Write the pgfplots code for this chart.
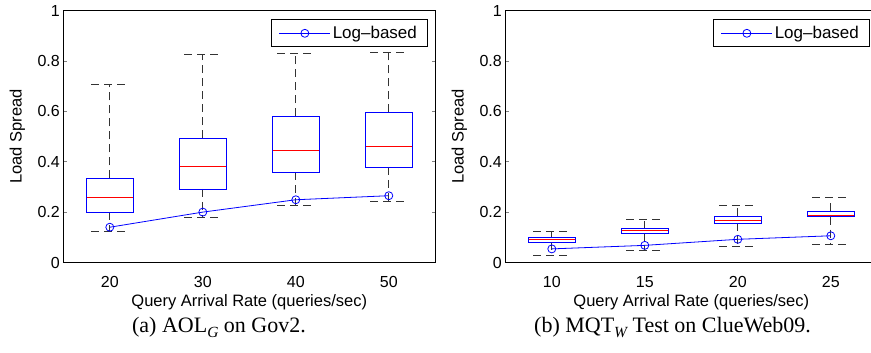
\documentclass[border=0pt]{standalone}
\usepackage{pgfplots}
\pgfplotsset{compat=1.18}
\usepgfplotslibrary{statistics}
\usepackage{fontspec}
\setmainfont{Liberation Sans}
\newfontfamily\capfont{Liberation Serif}

\pgfplotsset{
  myaxis/.style={
    scale only axis, width=372pt, height=252pt,
    anchor=south west,
    ymin=0, ymax=1, ytick={0,0.2,0.4,0.6,0.8,1},
    axis line style={line width=0.9pt, black},
    major tick length=3.3pt,
    tick align=inside,
    major x tick style={draw=none},
    ytick style={line width=0.6pt},
    /pgf/number format/assume math mode=true,
    tick label style={font=\fontsize{16}{19}\selectfont},
    xticklabel style={anchor=base, yshift=-25.5pt},
    label style={font=\fontsize{16.5}{19}\selectfont},
    xlabel={Query Arrival Rate (queries/sec)},
    ylabel={Load Spread},
    xlabel style={at={(axis description cs:0.5,-0.1746)}, anchor=base},
    ylabel style={at={(axis description cs:-0.112,0.5)}, anchor=base},
    legend style={at={(rel axis cs:1,1)}, anchor=north east, xshift=-8pt, yshift=-9pt,
      draw=black, line width=0.8pt, inner xsep=8pt, inner ysep=4.5pt,
      font=\fontsize{17}{20}\selectfont, cells={anchor=west}},
    legend image code/.code={\draw[mark repeat=2,mark phase=2,#1] plot coordinates {(0pt,0pt) (25.5pt,0pt) (51pt,0pt)};},
    boxplot/draw direction=y,
    boxplot/every box/.style={draw=blue, line width=0.8pt},
    boxplot/every median/.style={draw=red, line width=0.8pt},
    boxplot/every whisker/.style={draw=black!80, line width=0.8pt, dash pattern=on 8pt off 5pt},
    boxplot/draw/.code={%
      \draw[/pgfplots/boxplot/every whisker/.try]
        (boxplot cs:\pgfplotsboxplotvalue{lower whisker}) -- (boxplot cs:\pgfplotsboxplotvalue{lower quartile})
        (boxplot cs:\pgfplotsboxplotvalue{upper whisker}) -- (boxplot cs:\pgfplotsboxplotvalue{upper quartile});
      \draw[/pgfplots/boxplot/every box/.try]
        (boxplot box cs:\pgfplotsboxplotvalue{lower quartile},0) rectangle (boxplot box cs:\pgfplotsboxplotvalue{upper quartile},1);
      \draw[/pgfplots/boxplot/every median/.try]
        (boxplot box cs:\pgfplotsboxplotvalue{median},0) -- (boxplot box cs:\pgfplotsboxplotvalue{median},1);
      \path[draw=black, line width=0.9pt, dash pattern=on 60pt off 0pt]
        (boxplot box cs:\pgfplotsboxplotvalue{lower whisker},0.25) -- (boxplot box cs:\pgfplotsboxplotvalue{lower whisker},0.75);
      \path[draw=black, line width=0.9pt, dash pattern=on 60pt off 0pt]
        (boxplot box cs:\pgfplotsboxplotvalue{upper whisker},0.25) -- (boxplot box cs:\pgfplotsboxplotvalue{upper whisker},0.75);
    },
  },
  logline/.style={blue, line width=0.8pt, mark=o, mark size=4pt, mark options={solid, line width=0.8pt}},
}

\begin{document}
\begin{tikzpicture}
\useasboundingbox (0pt,0pt) rectangle (871pt,353pt);

% (a) AOL_G on Gov2
\begin{axis}[myaxis, at={(63.3pt,90.5pt)},
  xmin=15, xmax=55, xtick={20,30,40,50},
  boxplot/box extend=5]
\addplot[forget plot, boxplot prepared={draw position=20, lower whisker=0.124, lower quartile=0.200, median=0.259, upper quartile=0.334, upper whisker=0.706}] coordinates {};
\addplot[forget plot, boxplot prepared={draw position=30, lower whisker=0.178, lower quartile=0.292, median=0.380, upper quartile=0.494, upper whisker=0.825}] coordinates {};
\addplot[forget plot, boxplot prepared={draw position=40, lower whisker=0.227, lower quartile=0.358, median=0.445, upper quartile=0.581, upper whisker=0.830}] coordinates {};
\addplot[forget plot, boxplot prepared={draw position=50, lower whisker=0.244, lower quartile=0.379, median=0.461, upper quartile=0.596, upper whisker=0.833}] coordinates {};
\addplot[logline] coordinates {(20,0.140) (30,0.200) (40,0.249) (50,0.265)};
\addlegendentry{Log--based}
\end{axis}

% (b) MQT_W Test on ClueWeb09
\begin{axis}[myaxis, at={(505.3pt,90.5pt)},
  xmin=7.5, xmax=27.5, xtick={10,15,20,25},
  boxplot/box extend=2.5]
\addplot[forget plot, boxplot prepared={draw position=10, lower whisker=0.030, lower quartile=0.080, median=0.090, upper quartile=0.101, upper whisker=0.124}] coordinates {};
\addplot[forget plot, boxplot prepared={draw position=15, lower whisker=0.047, lower quartile=0.117, median=0.126, upper quartile=0.134, upper whisker=0.173}] coordinates {};
\addplot[forget plot, boxplot prepared={draw position=20, lower whisker=0.063, lower quartile=0.156, median=0.167, upper quartile=0.183, upper whisker=0.227}] coordinates {};
\addplot[forget plot, boxplot prepared={draw position=25, lower whisker=0.073, lower quartile=0.182, median=0.187, upper quartile=0.204, upper whisker=0.260}] coordinates {};
\addplot[logline] coordinates {(10,0.054) (15,0.068) (20,0.092) (25,0.106)};
\addlegendentry{Log--based}
\end{axis}

\node[anchor=base] at (219pt,20pt) {\capfont\fontsize{22}{26}\selectfont (a) AOL\raisebox{-0.22em}{\fontsize{15.5}{18}\selectfont\itshape G} on Gov2.};
\node[anchor=base] at (672.5pt,20pt) {\capfont\fontsize{22}{26}\selectfont (b) MQT\raisebox{-0.22em}{\fontsize{15.5}{18}\selectfont\itshape W} Test on ClueWeb09.};
\end{tikzpicture}
\end{document}
